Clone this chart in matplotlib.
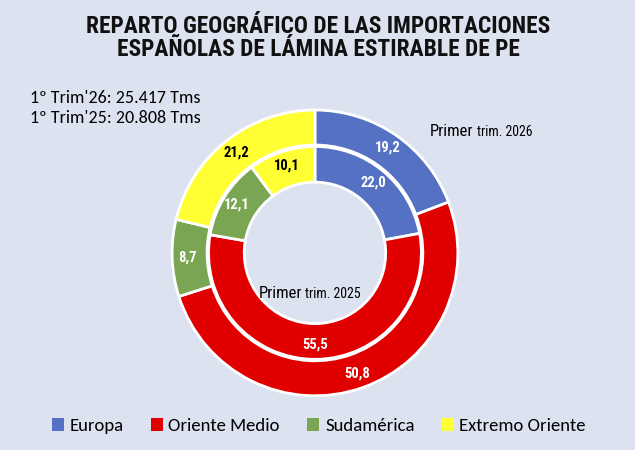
import matplotlib.pyplot as plt
from matplotlib.patches import Patch

regiones = ['Europa', 'Oriente Medio', 'Sudamérica', 'Extremo Oriente']
trim_2026 = [19.2, 50.8, 8.7, 21.2]
trim_2025 = [22.0, 55.5, 12.1, 10.1]
colores = ['#5571c4', '#e00000', '#7aa552', '#ffff33']
color_texto = ['white', 'white', 'white', 'black']

fondo = '#dde2f1'
narrow = ['Roboto Condensed', 'Archivo Narrow', 'Liberation Sans', 'DejaVu Sans']
calibri = ['Carlito', 'Lato', 'DejaVu Sans']

fig = plt.figure(figsize=(6.35, 4.5), dpi=100)
fig.patch.set_facecolor(fondo)

ax = fig.add_axes([0.271, 0.120, 0.450, 0.636])
ax.set_facecolor(fondo)

# anillo exterior (2026)
w1, t1 = ax.pie(trim_2026, radius=1.0, colors=colores, startangle=90,
                counterclock=False,
                labels=[f'{v:.1f}'.replace('.', ',') for v in trim_2026],
                labeldistance=0.895,
                wedgeprops=dict(width=0.245, edgecolor='white', linewidth=2))
# anillo interior (2025)
w2, t2 = ax.pie(trim_2025, radius=0.745, colors=colores, startangle=90,
                counterclock=False,
                labels=[f'{v:.1f}'.replace('.', ',') for v in trim_2025],
                labeldistance=0.86,
                wedgeprops=dict(width=0.25, edgecolor='white', linewidth=2))

for textos in (t1, t2):
    for t, c in zip(textos, color_texto):
        t.set_color(c)
        t.set_fontweight('bold')
        t.set_fontsize(10.5)
        t.set_family(narrow)
        t.set_horizontalalignment('center')
        t.set_verticalalignment('center')

ax.set_xlim(-1, 1)
ax.set_ylim(-1, 1)
ax.set_aspect('equal')

# rótulos de los anillos
fig.text(0.677, 0.708, 'Primer', fontsize=12, family=narrow, va='center')
fig.text(0.751, 0.706, 'trim. 2026', fontsize=10, family=narrow, va='center')
fig.text(0.407, 0.348, 'Primer', fontsize=12, family=narrow, va='center')
fig.text(0.481, 0.346, 'trim. 2025', fontsize=10, family=narrow, va='center')

fig.text(0.501, 0.967, 'REPARTO GEOGRÁFICO DE LAS IMPORTACIONES\nESPAÑOLAS DE LÁMINA ESTIRABLE DE PE',
         ha='center', va='top', fontsize=16.8, fontweight='bold', family=narrow,
         linespacing=1.0, color='#111111')

fig.text(0.047, 0.782, "1º Trim'26: 25.417 Tms", fontsize=13, family=calibri, va='center')
fig.text(0.047, 0.738, "1º Trim'25: 20.808 Tms", fontsize=13, family=calibri, va='center')

handles = [Patch(facecolor=c, edgecolor='none') for c in colores]
fig.legend(handles, regiones, loc='center', bbox_to_anchor=(0.502, 0.053), ncol=4,
           frameon=False, handlelength=0.65, handleheight=0.65,
           handletextpad=0.3, columnspacing=1.45,
           prop={'family': calibri, 'size': 13.5})

fig.savefig('out.png', dpi=100, facecolor=fondo)
